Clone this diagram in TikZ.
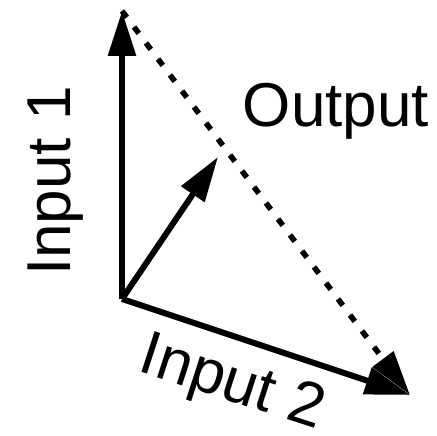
\documentclass[tikz,border=0pt]{standalone}
\usepackage{fontspec}
\setmainfont{Liberation Sans}
\usetikzlibrary{arrows.meta}
\tikzset{
  vec/.style={line width=6pt, -{Triangle[length=45pt,width=27pt]}},
  dotvec/.style={line width=5.5pt, dash pattern=on 8pt off 12pt, -{Triangle[length=45pt,width=25pt]}},
  lbl/.style={inner sep=0pt, anchor=base, font=\fontsize{62}{62}\selectfont}
}
\begin{document}
\begin{tikzpicture}[x=1pt,y=1pt]
\useasboundingbox (0,0) rectangle (437,436);
\coordinate (O) at (122,137);
\coordinate (T1) at (122,425);
\coordinate (T2) at (410,41);
\coordinate (T3) at (218,279);
\draw[vec] (O) -- (T1);
\draw[vec] (O) -- (T2);
\draw[vec] (O) -- (T3);
\draw[dotvec] (T1) -- (T2);
\node[lbl, rotate=90] (in1) at (70,255) {Input 1};
\node[lbl] (out) at (336,309) {Output};
\node[lbl, rotate=-18] (in2) at (227,36) {Input 2};
\end{tikzpicture}
\end{document}
